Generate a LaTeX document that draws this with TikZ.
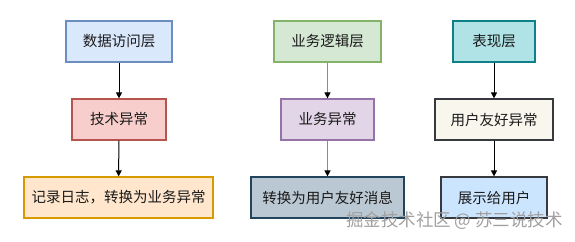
\documentclass[tikz,border=0pt]{standalone}
\usepackage{fontspec}
\setmainfont{Noto Sans CJK SC}
\usetikzlibrary{arrows.meta}
\definecolor{b1f}{HTML}{DAE8FC}\definecolor{b1d}{HTML}{6C8EBF}
\definecolor{r1f}{HTML}{F8CECC}\definecolor{r1d}{HTML}{B85450}
\definecolor{o1f}{HTML}{FFE6CC}\definecolor{o1d}{HTML}{D79B00}
\definecolor{g1f}{HTML}{D5E8D4}\definecolor{g1d}{HTML}{82B366}
\definecolor{p1f}{HTML}{E1D5E7}\definecolor{p1d}{HTML}{9673A6}
\definecolor{s1f}{HTML}{BAC8D3}\definecolor{s1d}{HTML}{23445D}
\definecolor{t1f}{HTML}{B0E3E6}\definecolor{t1d}{HTML}{0E8088}
\definecolor{c1f}{HTML}{F9F7ED}\definecolor{c1d}{HTML}{36393D}
\definecolor{l1f}{HTML}{CCE5FF}\definecolor{l1d}{HTML}{36393D}
\definecolor{txt}{HTML}{1A1A1A}
\definecolor{wm}{HTML}{A0A0A0}
\tikzset{
  box/.style={draw, line width=1.2pt, minimum height=41pt, inner sep=0pt, font=\fontsize{14.5}{16}\selectfont, text=txt},
  conn/.style={line width=1pt, -{Triangle[width=6pt,length=6pt,fill=black,color=black]}},
  wmark/.style={text=wm, font=\fontsize{17.5}{20}\selectfont, inner sep=0pt},
}
\begin{document}
\begin{tikzpicture}[x=1pt,y=-1pt]
\useasboundingbox (0,0) rectangle (575,241);
\node[box, fill=b1f, draw=b1d, minimum width=106pt] (a1) at (119,41.5) {数据访问层};
\node[box, fill=r1f, draw=r1d, minimum width=94pt] (a2) at (119,119.5) {技术异常};
\node[box, fill=o1f, draw=o1d, minimum width=189pt] (a3) at (118.5,197.5) {记录日志，转换为业务异常};
\node[box, fill=g1f, draw=g1d, minimum width=107pt] (b1) at (327.5,41.5) {业务逻辑层};
\node[box, fill=p1f, draw=p1d, minimum width=93pt] (b2) at (327.5,119.5) {业务异常};
\node[box, fill=s1f, draw=s1d, minimum width=153pt] (b3) at (327.5,197.5) {转换为用户友好消息};
\node[box, fill=t1f, draw=t1d, minimum width=82pt] (c1) at (494,41.5) {表现层};
\node[box, fill=c1f, draw=c1d, minimum width=118pt] (c2) at (494,119.5) {用户友好异常};
\node[box, fill=l1f, draw=l1d, minimum width=106pt] (c3) at (494,197.5) {展示给用户};
\draw[conn, draw=black] (a1) -- (a2);
\draw[conn, draw=black] (a2) -- (a3);
\draw[conn, draw=black!45] (b1) -- (b2);
\draw[conn, draw=black!45] (b2) -- (b3);
\draw[conn, draw=black] (c1) -- (c2);
\draw[conn, draw=black] (c2) -- (c3);
\node[wmark] (wm) at (454.5,221) {掘金技术社区 @ 苏三说技术};
\end{tikzpicture}
\end{document}
